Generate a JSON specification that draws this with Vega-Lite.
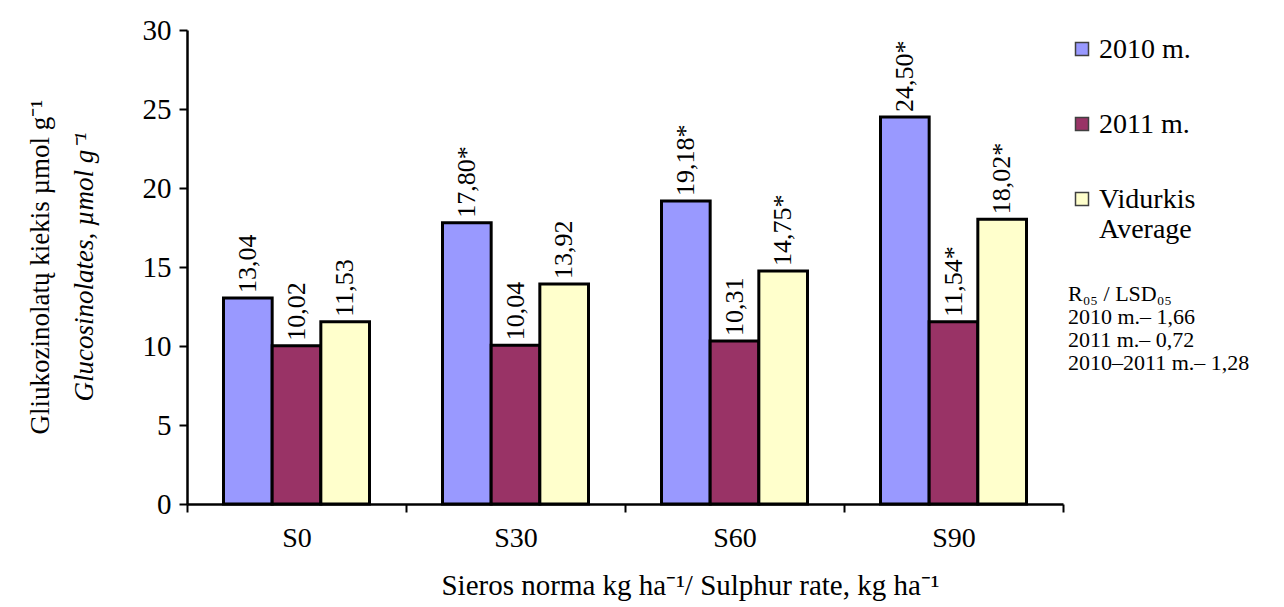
{
  "$schema": "https://vega.github.io/schema/vega-lite/v6.json",
  "autosize": "none",
  "width": 876,
  "height": 474,
  "padding": {"left": 187, "top": 30, "right": 221, "bottom": 103},
  "background": "white",
  "title": {
    "text": "Gliukozinolatų kiekis µmol g⁻¹",
    "subtitle": "Glucosinolates, µmol g⁻¹",
    "orient": "left",
    "anchor": "middle",
    "font": "Liberation Serif",
    "fontSize": 27,
    "fontWeight": "normal",
    "color": "black",
    "subtitleFont": "Liberation Serif",
    "subtitleFontSize": 27,
    "subtitleFontStyle": "italic",
    "subtitleColor": "black",
    "subtitlePadding": 17,
    "offset": 43
  },
  "data": {
    "values": [
      {"rate": "S0", "series": "2010 m.", "value": 13.04, "label": "13,04"},
      {"rate": "S0", "series": "2011 m.", "value": 10.02, "label": "10,02"},
      {"rate": "S0", "series": "Vidurkis", "value": 11.53, "label": "11,53"},
      {"rate": "S30", "series": "2010 m.", "value": 17.80, "label": "17,80*"},
      {"rate": "S30", "series": "2011 m.", "value": 10.04, "label": "10,04"},
      {"rate": "S30", "series": "Vidurkis", "value": 13.92, "label": "13,92"},
      {"rate": "S60", "series": "2010 m.", "value": 19.18, "label": "19,18*"},
      {"rate": "S60", "series": "2011 m.", "value": 10.31, "label": "10,31"},
      {"rate": "S60", "series": "Vidurkis", "value": 14.75, "label": "14,75*"},
      {"rate": "S90", "series": "2010 m.", "value": 24.50, "label": "24,50*"},
      {"rate": "S90", "series": "2011 m.", "value": 11.54, "label": "11,54*"},
      {"rate": "S90", "series": "Vidurkis", "value": 18.02, "label": "18,02*"}
    ]
  },
  "encoding": {
    "x": {
      "field": "rate",
      "type": "nominal",
      "sort": ["S0", "S30", "S60", "S90"],
      "scale": {"paddingInner": 0, "paddingOuter": 0},
      "axis": {
        "title": "Sieros norma kg ha⁻¹/ Sulphur rate, kg ha⁻¹",
        "titleFont": "Liberation Serif",
        "titleFontSize": 29,
        "titleFontWeight": "normal",
        "titleColor": "black",
        "titlePadding": 19,
        "titleX": 503,
        "titleAlign": "center",
        "labelFont": "Liberation Serif",
        "labelFontSize": 28,
        "labelColor": "black",
        "labelAngle": 0,
        "labelPadding": 12,
        "domainColor": "black",
        "domainWidth": 2.5,
        "tickColor": "black",
        "tickWidth": 2,
        "tickSize": 8,
        "tickBand": "extent",
        "grid": false
      }
    },
    "xOffset": {
      "field": "series",
      "sort": ["2010 m.", "2011 m.", "Vidurkis"],
      "scale": {"paddingInner": 0, "paddingOuter": 0.75}
    },
    "y": {
      "field": "value",
      "type": "quantitative",
      "scale": {"domain": [0, 30], "nice": false},
      "axis": {
        "values": [0, 5, 10, 15, 20, 25, 30],
        "title": null,
        "grid": false,
        "labelFont": "Liberation Serif",
        "labelFontSize": 29,
        "labelColor": "black",
        "labelPadding": 8,
        "domainColor": "black",
        "domainWidth": 2.5,
        "tickColor": "black",
        "tickWidth": 2,
        "tickSize": 8
      }
    }
  },
  "layer": [
    {
      "mark": {"type": "bar", "stroke": "black", "strokeWidth": 3, "strokeJoin": "miter"},
      "encoding": {
        "color": {
          "field": "series",
          "type": "nominal",
          "sort": ["2010 m.", "2011 m.", "Vidurkis"],
          "scale": {"domain": ["2010 m.", "2011 m.", "Vidurkis"], "range": ["#9999FF", "#993366", "#FFFFCC"]},
          "legend": {
            "orient": "right",
            "offset": 0,
            "padding": 5,
            "title": ["R₀₅ / LSD₀₅", "2010 m.– 1,66", "2011 m.– 0,72", "2010–2011 m.– 1,28"],
            "titleOrient": "bottom",
            "titleAnchor": "start",
            "titleAlign": "left",
            "titleFont": "Liberation Serif",
            "titleFontSize": 22,
            "titleFontWeight": "normal",
            "titleColor": "black",
            "titleLineHeight": 23,
            "titlePadding": 40,
            "titleLimit": 400,
            "symbolType": "square",
            "symbolSize": 169,
            "symbolStrokeColor": "#404040",
            "symbolStrokeWidth": 1.5,
            "symbolOpacity": 1,
            "labelFont": "Liberation Serif",
            "labelFontSize": 28,
            "labelColor": "black",
            "labelOffset": 3,
            "labelBaseline": "alphabetic",
            "labelLimit": 300,
            "rowPadding": 46,
            "labelExpr": "datum.label == 'Vidurkis' ? ['Vidurkis', 'Average'] : datum.label",
            "encode": {"labels": {"update": {"dy": {"value": 9}, "lineHeight": {"value": 30}}}}
          }
        }
      }
    },
    {
      "mark": {"type": "text", "angle": 270, "align": "left", "baseline": "middle", "dx": 5, "font": "Liberation Serif", "fontSize": 26, "color": "black"},
      "encoding": {"text": {"field": "label"}}
    }
  ],
  "config": {"view": {"stroke": null}}
}
